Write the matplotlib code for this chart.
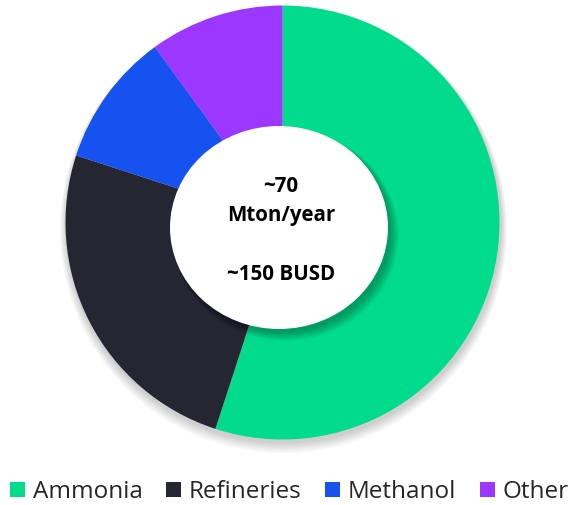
import matplotlib.pyplot as plt
from matplotlib.patches import Ellipse, Circle

# data
labels = ['Ammonia', 'Refineries', 'Methanol', 'Other']
shares = [55, 25, 10, 10]
colors = ['#00DC8C', '#262633', '#1652F0', '#9B37FF']
center_lines = ['~70', 'Mton/year', '~150 BUSD']

plt.rcParams['font.family'] = ['Open Sans', 'DejaVu Sans']

fig = plt.figure(figsize=(5.7, 5.05), dpi=100)
ax = fig.add_axes([0, 0, 1, 1])

cx, cy, R = 282.5, 282.5, 217

# soft shadow under the ring
for i in range(8):
    ax.add_patch(Circle((cx + 1, cy - 3 - i * 0.6), R + 1 + i * 0.8,
                        color='black', alpha=0.025, lw=0, zorder=1))

wedges, _ = ax.pie(shares, colors=colors, startangle=90, counterclock=False,
                   radius=R, center=(cx, cy), frame=True,
                   wedgeprops=dict(linewidth=0))
for w in wedges:
    w.set_zorder(2)
ax.set_xlim(0, 570)
ax.set_ylim(0, 505)
ax.set_aspect('equal')
ax.axis('off')

# inner white disc with shadow
ex, ey, ew, eh = 279, 277.5, 218, 203
for i in range(8):
    ax.add_patch(Ellipse((ex + 3 + i * 0.5, ey - 4 - i * 0.5), ew + i * 1.2, eh + i * 1.2,
                         color='black', alpha=0.04, lw=0, zorder=3))
ax.add_patch(Ellipse((ex, ey), ew, eh, color='white', lw=0, zorder=4))

ys = [505 - 187, 505 - 215, 505 - 274]
for t, y in zip(center_lines, ys):
    ax.text(281, y, t, ha='center', va='center', fontsize=14.8,
            fontweight='bold', color='black', zorder=5)

fig.legend(wedges, labels, loc='center', ncol=4, frameon=False,
           bbox_to_anchor=(0.508, 13 / 505), fontsize=17.5, handlelength=0.6,
           handleheight=0.6, handletextpad=0.33, columnspacing=0.97,
           labelcolor='#262626', borderpad=0, borderaxespad=0)

fig.savefig('out.png', dpi=100)
